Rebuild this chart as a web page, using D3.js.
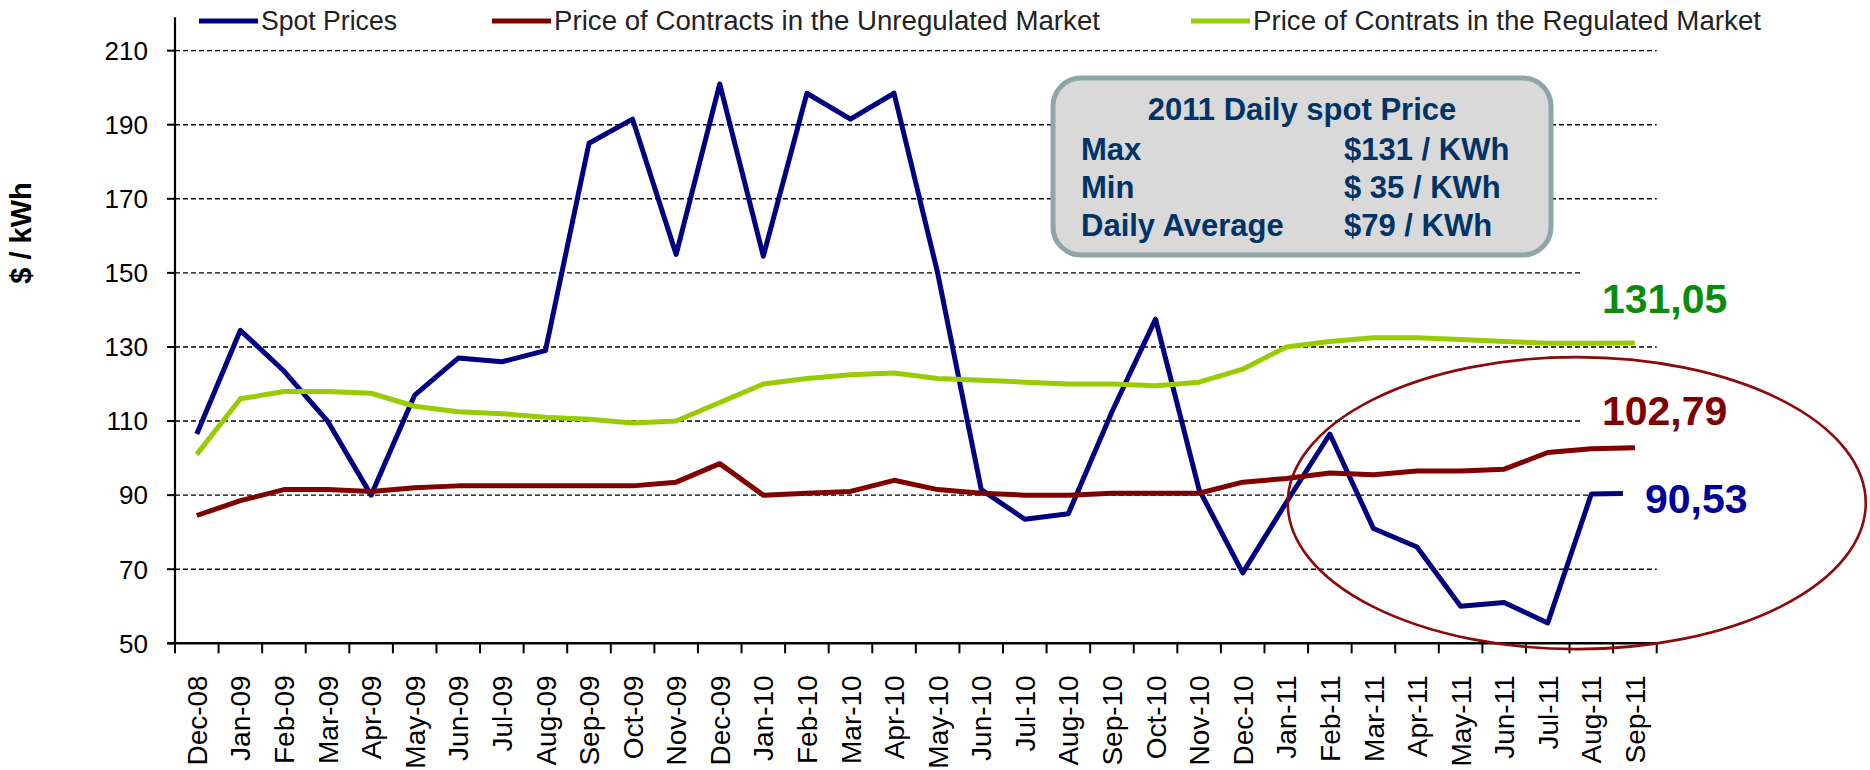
<!DOCTYPE html>
<html>
<head>
<meta charset="utf-8">
<script src="https://cdn.jsdelivr.net/npm/d3@7"></script>
<style>
  html, body { margin: 0; padding: 0; background: #fff; }
  svg { display: block; }
  text { font-family: "Liberation Sans", Arial, sans-serif; }
</style>
</head>
<body>
<svg id="chart" width="1870" height="770"></svg>
<script>
// ---------------- DATA ----------------
const categories = ["Dec-08","Jan-09","Feb-09","Mar-09","Apr-09","May-09","Jun-09","Jul-09","Aug-09","Sep-09","Oct-09","Nov-09",
  "Dec-09","Jan-10","Feb-10","Mar-10","Apr-10","May-10","Jun-10","Jul-10","Aug-10","Sep-10","Oct-10","Nov-10",
  "Dec-10","Jan-11","Feb-11","Mar-11","Apr-11","May-11","Jun-11","Jul-11","Aug-11","Sep-11"];

const spotPrices = [106.5,134.5,123.5,110,90,117,127,126,129,185,191.5,155,
  201,154.5,198.5,191.5,198.5,150,91.5,83.5,85,112.5,137.5,91.5,
  69,88,106.5,81,76,60,61,55.5,90.3,90.53];

const unregulatedPrices = [84.5,88.5,91.5,91.5,91,92,92.5,92.5,92.5,92.5,92.5,93.5,
  98.5,90,90.5,91,94,91.5,90.5,90,90,90.5,90.5,90.5,
  93.5,94.5,96,95.5,96.5,96.5,97,101.5,102.5,102.79];

const regulatedPrices = [101,116,118,118,117.5,114,112.5,112,111,110.5,109.5,110,
  115,120,121.5,122.5,123,121.5,121,120.5,120,120,119.5,120.5,
  124,130,131.5,132.5,132.5,132,131.5,131,131,131.05];

const seriesNames = ["Spot Prices","Price of Contracts in the Unregulated Market","Price of Contrats in the Regulated Market"];
const seriesColors = ["#000080","#800000","#99CC00"];
const labelColors = ["#000099","#800000","#0A8C0A"];

const yTicks = [50,70,90,110,130,150,170,190,210];
const yAxisTitle = "$ / kWh";

const infoTitle = "2011 Daily spot Price";
const infoLabels = ["Max","Min","Daily Average"];
const infoValues = ["$131 / KWh","$ 35 / KWh","$79 / KWh"];

// ---------------- LAYOUT ----------------
const svg = d3.select("#chart");
const plotLeft = 175, plotRight = 1656.7, plotBottom = 643.3, plotTop = 17.3;

const x = d3.scaleBand().domain(categories).range([plotLeft, plotRight]).paddingInner(0).paddingOuter(0);
const y = d3.scaleLinear().domain([50, 219]).range([plotBottom, plotTop]);
const cx = c => x(c) + x.bandwidth() / 2;

// gridlines
svg.append("g").selectAll("line").data(yTicks.filter(t => t > 50)).join("line")
  .attr("x1", plotLeft).attr("x2", plotRight)
  .attr("y1", d => y(d)).attr("y2", d => y(d))
  .attr("stroke", "#000").attr("stroke-width", 1.4).attr("stroke-dasharray", "5,3");

// lines
const seriesData = [spotPrices, unregulatedPrices, regulatedPrices];
const line = d3.line().x((d, i) => cx(categories[i])).y(d => y(d));
[0,1,2].forEach(s => {
  svg.append("path").datum(seriesData[s])
    .attr("d", line).attr("fill", "none")
    .attr("stroke", seriesColors[s]).attr("stroke-width", 5)
    .attr("stroke-linejoin", "round").attr("stroke-linecap", "butt");
});

// end value labels with white backgrounds
const fmt = v => d3.format(".2f")(v).replace(".", ",");
const last = categories[categories.length - 1];
const endLabelSpecs = [
  { s: 2, dx: -33, dy: -30, bx: -52, bw: 200, by: -80, bh: 70 },
  { s: 1, dx: -33, dy: -23, bx: -52, bw: 200, by: -56, bh: 45 },
  { s: 0, dx: 10, dy: 20, bx: -12, bw: 150, by: -22, bh: 55 }
];
endLabelSpecs.forEach(o => {
  const v = seriesData[o.s][seriesData[o.s].length - 1];
  const px = cx(last), py = y(v);
  svg.append("rect").attr("x", px + o.bx).attr("y", py + o.by).attr("width", o.bw).attr("height", o.bh).attr("fill", "#fff");
  svg.append("text").attr("x", px + o.dx).attr("y", py + o.dy)
    .attr("font-size", 41).attr("font-weight", "bold").attr("fill", labelColors[o.s])
    .text(fmt(v));
});

// y axis
const yAxisG = svg.append("g").attr("transform", `translate(${plotLeft},0)`);
yAxisG.append("line").attr("x1", 0).attr("x2", 0).attr("y1", plotTop).attr("y2", plotBottom)
  .attr("stroke", "#000").attr("stroke-width", 2.2);
yAxisG.selectAll(".yt").data(yTicks).join("line")
  .attr("x1", -8).attr("x2", 0).attr("y1", d => y(d)).attr("y2", d => y(d))
  .attr("stroke", "#000").attr("stroke-width", 2);
yAxisG.selectAll(".yl").data(yTicks).join("text")
  .attr("x", -27).attr("y", d => y(d)).attr("dy", "0.36em")
  .attr("text-anchor", "end").attr("font-size", 26).attr("fill", "#000")
  .text(d => d);

svg.append("text")
  .attr("transform", `translate(31,233) rotate(-90)`)
  .attr("text-anchor", "middle").attr("font-size", 29).attr("font-weight", "bold")
  .text(yAxisTitle);

// x axis
const xAxisG = svg.append("g");
xAxisG.append("line").attr("x1", plotLeft - 8).attr("x2", plotRight).attr("y1", plotBottom).attr("y2", plotBottom)
  .attr("stroke", "#000").attr("stroke-width", 2.6);
const tickPos = categories.map(c => x(c)).concat([plotRight]);
xAxisG.selectAll(".xt").data(tickPos).join("line")
  .attr("x1", d => d).attr("x2", d => d).attr("y1", plotBottom).attr("y2", plotBottom + 10)
  .attr("stroke", "#000").attr("stroke-width", 2);
xAxisG.selectAll(".xl").data(categories).join("text")
  .attr("transform", d => `translate(${cx(d)},${plotBottom + 32}) rotate(-90)`)
  .attr("dy", "0.36em").attr("text-anchor", "end").attr("font-size", 28).attr("fill", "#000")
  .text(d => d);

// ellipse highlight
svg.append("ellipse")
  .attr("cx", cx("Jul-11") + 29).attr("cy", y(90) + 8)
  .attr("rx", 289).attr("ry", 146)
  .attr("fill", "none").attr("stroke", "#8B0A0A").attr("stroke-width", 2.6);

// info box
const box = svg.append("g");
box.append("rect").attr("x", 1053).attr("y", 78).attr("width", 498).attr("height", 177)
  .attr("rx", 28).attr("ry", 28).attr("fill", "#D9D9D9").attr("stroke", "#8FA6A6").attr("stroke-width", 5);
box.append("text").attr("x", 1302).attr("y", 120).attr("text-anchor", "middle")
  .attr("font-size", 31).attr("font-weight", "bold").attr("fill", "#003366").text(infoTitle);
box.selectAll(".il").data(infoLabels).join("text")
  .attr("x", 1081).attr("y", (d, i) => 159.5 + i * 38.3)
  .attr("font-size", 31).attr("font-weight", "bold").attr("fill", "#003366").text(d => d);
box.selectAll(".iv").data(infoValues).join("text")
  .attr("x", 1344).attr("y", (d, i) => 159.5 + i * 38.3)
  .attr("font-size", 31).attr("font-weight", "bold").attr("fill", "#003366").text(d => d);

// legend
const legendX = [199, 492, 1191];
const legendTextLen = [136, 546, 508];
const lg = svg.append("g");
seriesNames.forEach((n, i) => {
  lg.append("line").attr("x1", legendX[i]).attr("x2", legendX[i] + 59).attr("y1", 21).attr("y2", 21)
    .attr("stroke", seriesColors[i]).attr("stroke-width", 5);
  lg.append("text").attr("x", legendX[i] + 62).attr("y", 30)
    .attr("font-size", 27).attr("fill", "#222")
    .attr("textLength", legendTextLen[i]).attr("lengthAdjust", "spacingAndGlyphs")
    .text(n);
});
</script>
</body>
</html>
